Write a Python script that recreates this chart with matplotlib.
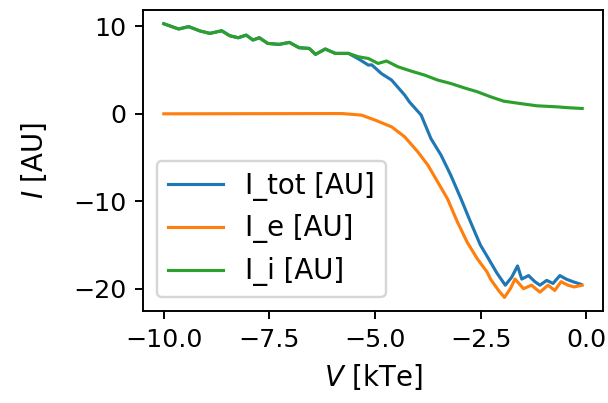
import numpy as np
import matplotlib
matplotlib.use("Agg")
import matplotlib.pyplot as plt
from matplotlib.ticker import MultipleLocator

# I_i (green)
x_i = [-10.0, -9.65, -9.41, -9.14, -8.91, -8.63, -8.44, -8.24, -8.05, -7.89,
       -7.74, -7.54, -7.27, -7.03, -6.80, -6.56, -6.41, -6.18, -5.94, -5.63,
       -5.40, -5.16, -4.93, -4.73, -4.46, -4.15, -3.83, -3.52, -3.21, -2.90,
       -2.58, -2.27, -1.96, -1.57, -1.18, -0.71, -0.40, -0.10]
y_i = [10.3, 9.7, 9.97, 9.47, 9.2, 9.5, 8.93, 8.7, 9.0, 8.44,
       8.7, 8.05, 7.94, 8.17, 7.56, 7.48, 6.8, 7.41, 6.91, 6.91,
       6.53, 6.33, 5.76, 6.04, 5.38, 4.89, 4.43, 3.86, 3.47, 2.98,
       2.52, 1.95, 1.45, 1.18, 0.92, 0.80, 0.69, 0.61]

# I_e (orange)
x_e = [-10.0, -5.78, -5.32, -5.0, -4.61, -4.30, -3.99, -3.75, -3.52, -3.29,
       -3.05, -2.82, -2.58, -2.35, -2.27, -2.08, -1.94, -1.80, -1.69, -1.49,
       -1.30, -1.10, -0.91, -0.75, -0.60, -0.44, -0.29, -0.10]
y_e = [0.0, 0.03, -0.15, -0.72, -1.49, -2.63, -4.35, -5.88, -7.79, -9.7,
       -12.4, -14.7, -16.6, -18.1, -18.9, -20.2, -21.0, -20.0, -18.9, -20.0,
       -19.6, -20.4, -19.6, -20.2, -19.2, -19.6, -19.8, -19.6]

# I_tot (blue)
x_tot = [-10.0, -9.65, -9.41, -9.14, -8.91, -8.63, -8.44, -8.24, -8.05, -7.89,
         -7.74, -7.54, -7.27, -7.03, -6.80, -6.56, -6.41, -6.18, -5.94, -5.63,
         -5.40, -5.16, -5.08, -4.85, -4.61, -4.30, -4.19, -3.91, -3.68, -3.44,
         -3.21, -2.97, -2.74, -2.51, -2.35, -2.12, -1.92, -1.77, -1.63, -1.53,
         -1.37, -1.22, -1.10, -0.94, -0.79, -0.63, -0.48, -0.32, -0.13]
y_tot = [10.3, 9.7, 9.97, 9.47, 9.2, 9.5, 8.93, 8.7, 9.0, 8.44,
         8.7, 8.05, 7.94, 8.17, 7.56, 7.48, 6.8, 7.41, 6.91, 6.91,
         6.3, 5.57, 5.6, 4.6, 3.86, 2.14, 1.37, -0.15, -2.83, -4.73,
         -7.02, -9.7, -12.4, -15.0, -16.3, -18.2, -19.6, -18.7, -17.4, -18.9,
         -18.5, -19.2, -19.6, -19.05, -19.4, -18.5, -18.9, -19.2, -19.5]

dpi = 173
fig = plt.figure(figsize=(608 / dpi, 403 / dpi), dpi=dpi)
ax = fig.add_axes([0.235, 0.228, 0.757, 0.747])

ax.plot(x_tot, y_tot, lw=1.3, label='I_tot [AU]')
ax.plot(x_e, y_e, lw=1.3, label='I_e [AU]')
ax.plot(x_i, y_i, lw=1.3, label='I_i [AU]')

ax.xaxis.set_major_locator(MultipleLocator(2.5))
ax.tick_params(labelsize=10.5)
ax.set_xlabel('$V$ [kTe]', fontsize=11.5, labelpad=4)
ax.set_ylabel('$I$ [AU]', fontsize=11.5, labelpad=10)
ax.legend(loc='lower left', fontsize=11.5)

fig.savefig('out.png', dpi=dpi)
